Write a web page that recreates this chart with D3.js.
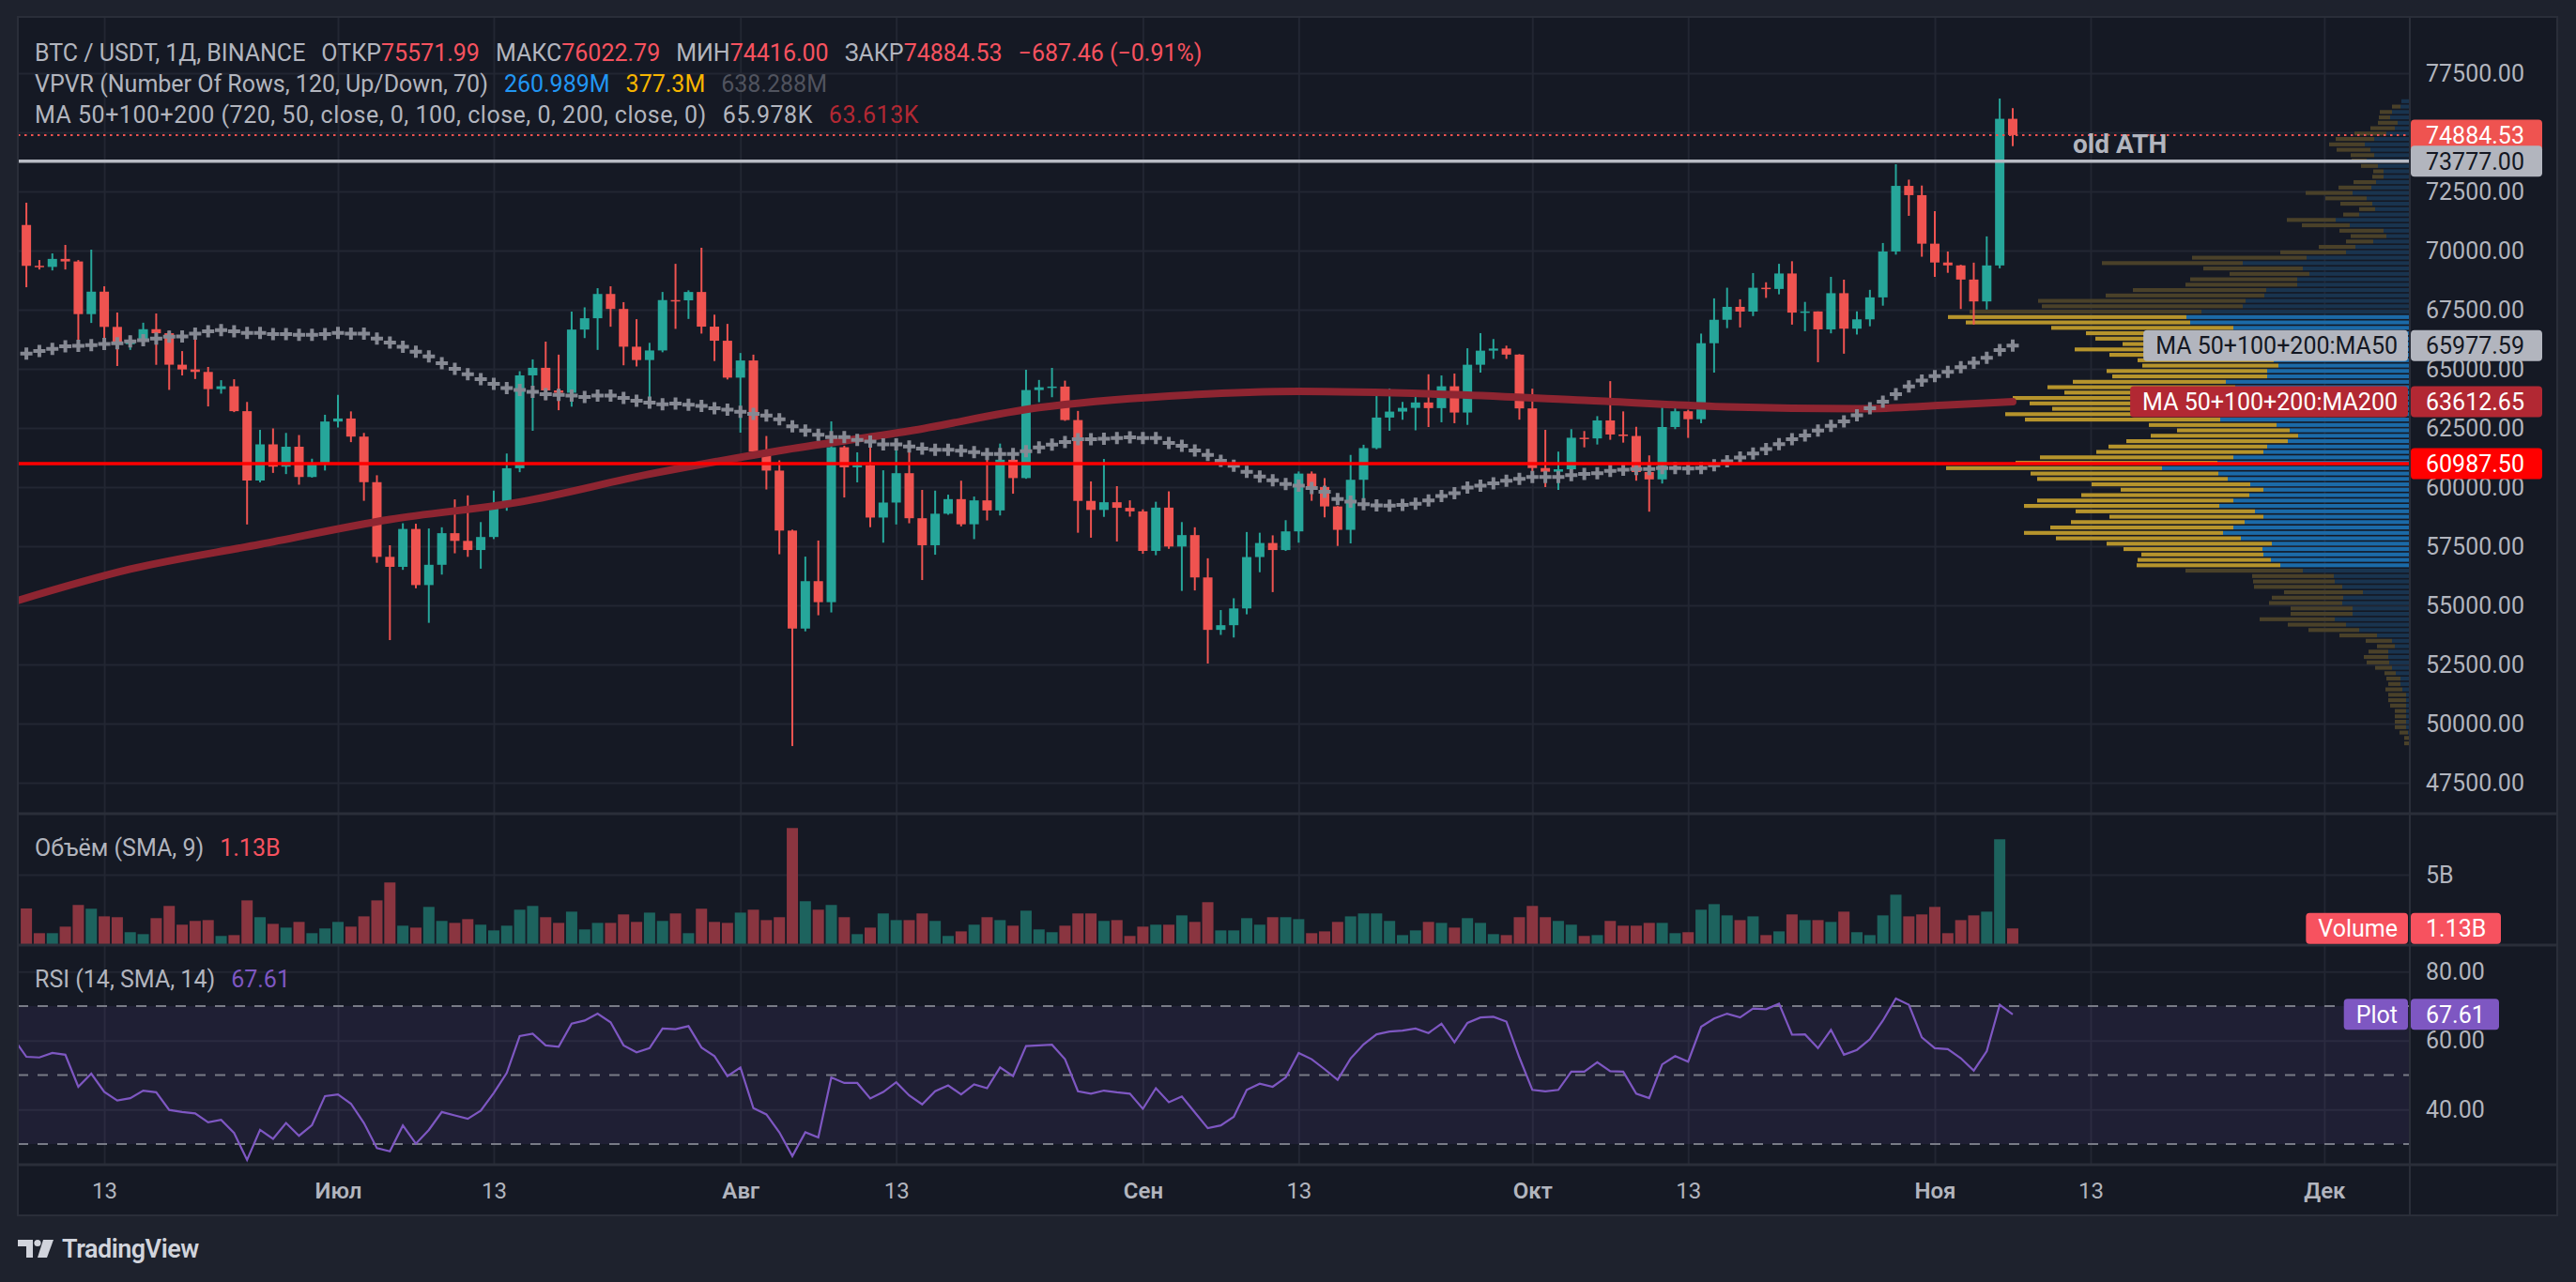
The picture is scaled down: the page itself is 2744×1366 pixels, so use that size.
<!DOCTYPE html>
<html>
<head>
<meta charset="utf-8">
<script src="https://cdn.jsdelivr.net/npm/d3@7/dist/d3.min.js"></script>
<style>
  html, body { margin: 0; padding: 0; background: #1e222d; overflow: hidden; }
  text { font-family: Roboto, "Liberation Sans", Arial, sans-serif; }
</style>
</head>
<body>
<div id="chart"></div>
<script>
// BTC / USDT daily candles, Binance, 7 Jun 2024 .. 7 Nov 2024
var firstDay = "2024-06-07"

var open = [
  71082,69355,69310,69648,69540,67314,68263,66773,66043,66228,
  66676,66505,65175,64974,64869,64143,64262,63210,60277,61806,
  60864,61706,60427,60986,62772,62900,62135,60208,57050,56628,
  58230,55857,56714,58051,57725,57339,57889,59204,60797,64724,
  65043,64087,63987,66660,67139,68165,67532,65936,65372,65777,
  67907,67896,68249,66784,66188,64628,65354,61498,60697,58161,
  54018,56022,55134,61685,60837,60923,58712,59346,60587,58683,
  57541,58874,59491,58427,59438,59013,61157,60381,64103,64220,
  64250,62834,59416,59034,59359,59123,58973,57301,59132,57487,
  57970,56180,53962,54160,54869,57042,57635,57338,58127,60571,
  60005,59182,58192,60308,61649,62940,63192,63348,63578,63339,
  64262,63152,65173,65769,65858,65602,63327,60805,60649,60752,
  62086,62058,62819,62224,62160,60636,60326,62540,63206,62870,
  66083,67074,67620,67421,68428,68378,69031,67377,67426,66668,
  68198,66698,67092,68021,69962,72736,72344,70292,69496,69374,
  68775,67850,69372,75571.99
]
var high = [
  72024,69600,69880,70240,69600,70040,68490,67380,66400,66950,
  67340,66620,65750,66490,65080,64520,64560,63600,62420,62480,
  62290,62200,61200,63058,63900,63200,62290,60500,57540,58470,
  58450,58250,58300,59480,59650,58520,59850,61420,64900,65400,
  66150,65600,67420,67600,68410,68490,67820,67100,66100,68250,
  69440,68320,70120,67290,66900,65670,65600,62160,61130,58200,
  57060,57740,62780,61750,61470,61850,60710,61560,61910,59880,
  59850,59680,60270,59600,61400,61840,61400,64960,64530,65040,
  64500,63220,60240,61190,60040,59440,59060,59380,59820,58520,
  58300,56990,54800,55300,58100,58070,57960,58600,60660,60660,
  60380,59200,61360,61790,63890,64170,63600,64000,64770,64720,
  64800,65870,66510,66260,65980,65620,64160,62420,61500,62450,
  62370,63000,64480,63200,62550,61340,63420,63480,63270,66490,
  67980,68430,67940,69050,68660,69440,69550,67830,67430,68890,
  68770,67430,68340,70320,73650,73000,72750,71670,69960,69400,
  69490,70600,76430,76022.79
]
var low = [
  68450,69200,69160,69200,66070,66940,66246,65120,65800,66000,
  65170,64110,64720,64570,63410,63950,63170,58420,60200,60600,
  60550,60100,60400,60700,62520,61900,59420,56800,53530,56500,
  55720,54260,56300,57200,57050,56550,57800,59000,60630,62380,
  63680,63250,63400,66300,65800,66780,65150,65100,63400,65700,
  66690,67110,66490,65330,64550,62300,61215,59900,57160,49050,
  53900,54580,54700,59560,60200,58300,57650,58420,58470,56070,
  57140,58830,58340,57800,58590,58800,59720,60350,63590,63800,
  62800,58070,57860,58740,57700,58750,57180,57120,57390,55610,
  55630,52540,53750,53640,54620,56400,55560,57300,57650,59420,
  58720,57510,57620,59460,61600,62380,62850,62400,62540,62740,
  62700,62630,64840,65420,65420,62850,60280,60000,59880,60460,
  61680,61800,62000,61880,60270,58960,60150,62450,62080,62700,
  64840,66720,66750,67230,68000,68150,66870,66590,65280,66500,
  65640,66450,66800,67670,69830,71470,69740,68890,69060,67530,
  66870,67510,69250,74416
]
var close = [
  69355,69310,69648,69540,67314,68263,66773,66043,66228,66676,
  66505,65175,64974,64869,64143,64262,63210,60277,61806,60864,
  61706,60427,60986,62772,62900,62135,60208,57050,56628,58230,
  55857,56714,58051,57725,57339,57889,59204,60797,64724,65043,
  64087,63987,66660,67139,68165,67532,65936,65372,65777,67907,
  67896,68249,66784,66188,64628,65354,61498,60697,58161,54018,
  56022,55134,61685,60837,60923,58712,59346,60587,58683,57541,
  58874,59491,58427,59438,59013,61157,60381,64103,64220,64250,
  62834,59416,59034,59359,59123,58973,57301,59132,57487,57970,
  56180,53962,54160,54869,57042,57635,57338,58127,60571,60005,
  59182,58192,60308,61649,62940,63192,63348,63578,63339,64262,
  63152,65173,65769,65858,65602,63327,60805,60649,60752,62086,
  62058,62819,62224,62160,60636,60326,62540,63206,62870,66083,
  67074,67620,67421,68428,68378,69031,67377,67426,66668,68198,
  66698,67092,68021,69962,72736,72344,70292,69496,69374,68775,
  67850,69372,75571.99,74884.53
]
// volume, billions USDT
var volume = [
  2.57,0.79,0.79,1.26,2.82,2.55,2.00,1.94,0.86,0.72,
  1.87,2.75,1.40,1.67,1.73,0.59,0.65,3.15,1.94,1.46,
  1.19,1.60,0.79,1.13,1.60,1.26,2.00,3.15,4.44,1.33,
  1.19,2.68,1.67,1.53,1.80,1.40,0.99,1.33,2.48,2.75,
  1.94,1.53,2.34,1.06,1.53,1.53,2.14,1.60,2.27,1.67,
  2.21,0.79,2.55,1.60,1.53,2.27,2.48,1.73,1.94,8.36,
  3.09,2.48,2.82,1.94,0.72,1.19,2.21,1.73,1.73,2.21,
  1.67,0.59,0.92,1.40,1.94,1.73,1.33,2.41,1.06,0.86,
  1.33,2.21,2.21,1.67,1.73,0.59,1.26,1.40,1.40,2.07,
  1.60,3.02,0.99,0.99,1.87,1.40,1.94,1.94,1.80,0.79,
  0.92,1.60,2.00,2.21,2.21,1.67,0.65,0.99,1.60,1.53,
  1.19,1.87,1.53,0.72,0.65,1.94,2.75,1.94,1.67,1.40,
  0.59,0.65,1.67,1.33,1.33,1.53,1.53,0.79,0.86,2.48,
  2.88,2.07,1.73,2.00,0.65,0.92,2.14,1.73,1.73,1.60,
  2.34,0.86,0.65,2.07,3.56,2.00,2.14,2.68,0.79,1.73,
  2.07,2.34,7.55,1.13
]
// RSI(14), first value belongs to 6 Jun
var rsi = [60.6,
  55.3,55.1,56.4,55.9,46.6,50.4,45.1,42.6,43.3,45.5,
  45.0,39.9,39.3,38.9,36.3,37.0,33.2,25.4,34.1,31.5,
  36.1,32.4,35.5,43.9,44.4,41.7,36.1,28.8,27.9,35.4,
  30.1,34.1,39.3,38.3,37.3,39.7,44.8,50.6,61.3,62.0,
  58.6,58.2,64.9,65.8,67.8,65.3,58.6,56.6,57.8,63.5,
  63.3,64.2,58.0,55.5,49.7,52.2,40.4,38.6,33.4,26.5,
  33.4,31.9,49.3,47.7,47.7,43.2,45.1,47.9,44.1,41.5,
  45.3,47.0,44.4,47.3,46.2,52.2,49.7,58.4,58.6,58.8,
  54.6,45.3,44.6,45.5,45.0,44.6,40.2,46.2,42.1,43.8,
  39.2,34.6,35.4,37.9,45.7,47.5,46.6,49.3,56.4,54.6,
  51.7,48.6,54.8,58.9,61.8,62.6,62.9,63.5,62.2,64.9,
  59.5,65.1,66.7,66.9,65.5,55.1,45.7,45.3,45.7,51.0,
  51.0,53.7,51.1,51.0,44.6,43.3,53.1,55.5,53.9,64.0,
  66.4,67.8,66.7,69.3,69.1,70.7,61.7,61.8,57.8,63.1,
  55.9,57.3,60.4,65.8,72.2,70.4,60.9,57.8,57.5,54.9,
  51.3,56.9,70.4,67.61
]
var ma50 = [
  65647,65758,65840,65952,65970,66000,66050,66080,66160,66210,
  66280,66355,66370,66490,66590,66640,66590,66520,66520,66470,
  66470,66440,66440,66470,66520,66490,66490,66280,66110,65935,
  65725,65530,65240,65000,64770,64560,64365,64185,64105,64025,
  63930,63895,63870,63810,63870,63870,63770,63650,63570,63500,
  63527,63480,63430,63330,63270,63180,63100,63030,62870,62570,
  62390,62210,62115,62110,61990,61920,61810,61810,61720,61630,
  61580,61580,61540,61480,61400,61400,61400,61520,61680,61800,
  61900,62020,62020,62040,62070,62100,62070,62070,61870,61750,
  61550,61360,61110,60900,60640,60450,60290,60130,60060,59960,
  59800,59490,59380,59280,59230,59215,59250,59300,59430,59620,
  59740,59980,60060,60160,60270,60350,60430,60430,60430,60510,
  60560,60590,60680,60730,60760,60760,60800,60800,60780,60800,
  60920,61090,61250,61420,61610,61820,62020,62180,62390,62590,
  62780,63040,63330,63610,63930,64260,64500,64690,64870,65070,
  65260,65470,65790,65977.59
]
// MA200 read at these candle numbers
var ma200Day = [-1, 8, 18, 28, 38, 48, 58, 68, 78, 88, 98, 110, 120, 131, 141, 148, 153]
var ma200 = [55150, 56530, 57580, 58630, 59370, 60550, 61540, 62370, 63360, 63850, 64050, 63910, 63670, 63390, 63310, 63470, 63612.65]

// visible range volume profile, 120 rows, highest row first
var vpHigh = 76430, vpLow = 49050
var vaHigh = 67300, vaLow = 56580
var vpDown = [
  0,9,13,12,21,26,34,41,38,36, 25,16,18,11,12,24,35,50,44,34,
  17,17,52,51,47,38,29,39,70,122, 150,106,85,114,119,142,169,221,214,247,
  254,239,194,170,165,150,175,160,145,145, 171,165,163,200,185,215,205,190,215,208,
  136,120,157,172,169,178,206,215,230,200, 203,169,152,179,209,208,191,164,185,195,
  212,197,176,148,130,142,153,125,87,87, 94,84,76,78,66,66,80,62,54,40,
  28,19,21,26,24,18,12,15,13,18, 19,19,17,12,12,12,12,9,5,6
]
var vpUp = [
  9,10,19,21,13,16,25,38,48,42, 38,46,34,28,28,36,41,61,46,40,
  37,54,79,64,28,25,39,58,68,110, 178,114,107,120,120,153,155,175,178,222,
  238,234,188,175,170,156,182,160,145,140, 152,152,196,186,183,208,200,191,216,202,
  142,128,119,130,152,156,188,205,264,204, 194,170,156,171,188,203,165,156,176,188,
  199,180,147,157,156,148,138,114,81,80, 72,50,71,72,61,61,80,68,54,35,
  19,16,23,23,22,19,15,10,10,8, 4,4,4,4,4,4,4,2,1,0
]

var oldAth = 73777
var supportLevel = 60987.5
var lastPrice = 74884.53

var priceTicks = [47500, 50000, 52500, 55000, 57500, 60000, 62500, 65000, 67500, 70000, 72500, 75000, 77500]
var timeTicks = ["2024-06-13", "2024-07-01", "2024-07-13", "2024-08-01", "2024-08-13", "2024-09-01",
                 "2024-09-13", "2024-10-01", "2024-10-13", "2024-11-01", "2024-11-13", "2024-12-01"]
var timeLabels = ["13", "Июл", "13", "Авг", "13", "Сен", "13", "Окт", "13", "Ноя", "13", "Дек"]
var volTicks = [5]
var rsiTicks = [40, 60, 80]
var rsiLevels = [30, 50, 70]

// ---- layout
var W = 2744, H = 1366
var L = 19, R = 2724, plotR = 2567
var mainTop = 18, mainBot = 866
var volTop = 868, volBot = 1006
var rsiTop = 1008, rsiBot = 1240
var timeBot = 1295

var bg = "#151924", gridC = "#222632", sepC = "#2a2e39", txt = "#b2b5be"
var upC = "#26a69a", dnC = "#ef5350"

var parse = d3.utcParse("%Y-%m-%d")
var t0 = parse(firstDay)
var dayAt = function(i) { return d3.utcDay.offset(t0, i) }

var x = d3.scaleUtc()
    .domain([parse("2024-07-01"), parse("2024-11-01")])
    .range([360, 2061])
var y = d3.scaleLinear().domain([47500, 77500]).range([834, 78])
var yVol = d3.scaleLinear().domain([0, 5]).range([volBot, 932])
var yRsi = d3.scaleLinear().domain([30, 70]).range([1219, 1072])

var bars = close.map(function(c, i) {
  return {t: dayAt(i), o: open[i], h: high[i], l: low[i], c: c, v: volume[i], up: c >= open[i]}
})

var svg = d3.select("#chart")
  .append("svg")
    .attr("width", W)
    .attr("height", H)

svg.append("rect").attr("width", W).attr("height", H).attr("fill", "#1e222d")
svg.append("rect")
    .attr("x", L).attr("y", mainTop)
    .attr("width", R - L).attr("height", timeBot - mainTop)
    .attr("fill", bg)

var defs = svg.append("defs")
defs.append("clipPath").attr("id", "clipMain")
  .append("rect").attr("x", L).attr("y", mainTop).attr("width", plotR - L).attr("height", mainBot - mainTop)
defs.append("clipPath").attr("id", "clipRsi")
  .append("rect").attr("x", L).attr("y", rsiTop).attr("width", plotR - L).attr("height", rsiBot - rsiTop)

// ---- grid
var tickDates = timeTicks.map(parse)

svg.append("g")
    .attr("transform", "translate(0," + rsiBot + ")")
    .call(d3.axisBottom(x).tickValues(tickDates).tickSize(-(rsiBot - mainTop)).tickFormat(""))
    .call(function(g) { g.select(".domain").remove() })
    .selectAll("line").attr("stroke", gridC).attr("stroke-width", 2)

svg.append("g")
    .attr("transform", "translate(" + plotR + ",0)")
    .call(d3.axisLeft(y).tickValues(priceTicks).tickSize(plotR - L).tickFormat(""))
    .call(function(g) { g.select(".domain").remove() })
    .selectAll("line").attr("stroke", gridC).attr("stroke-width", 2)

svg.append("g")
    .attr("transform", "translate(" + plotR + ",0)")
    .call(d3.axisLeft(yVol).tickValues(volTicks).tickSize(plotR - L).tickFormat(""))
    .call(function(g) { g.select(".domain").remove() })
    .selectAll("line").attr("stroke", gridC).attr("stroke-width", 2)

svg.append("g")
    .attr("transform", "translate(" + plotR + ",0)")
    .call(d3.axisLeft(yRsi).tickValues(rsiTicks).tickSize(plotR - L).tickFormat(""))
    .call(function(g) { g.select(".domain").remove() })
    .selectAll("line").attr("stroke", gridC).attr("stroke-width", 2)

// ---- volume profile (VPVR)
var main = svg.append("g").attr("clip-path", "url(#clipMain)")
var rowH = (vpHigh - vpLow) / vpDown.length
var vpTotal = vpDown.map(function(d, k) { return d + vpUp[k] })
var vpX = d3.scaleLinear().domain([0, d3.max(vpTotal)]).range([0, 494])

var rows = main.append("g").attr("class", "vpvr")
  .selectAll("g")
  .data(vpDown)
  .join("g")
    .attr("transform", function(d, k) {
      return "translate(0," + (y(vpHigh - k * rowH) + 0.8) + ")"
    })

rows.each(function(d, k) {
  var mid = vpHigh - (k + 0.5) * rowH
  var inVa = mid <= vaHigh && mid >= vaLow
  var h = (y(vpHigh - rowH) - y(vpHigh)) * 0.72
  var wUp = vpX(vpUp[k]), wDn = vpX(d)
  var g = d3.select(this)
  g.append("rect")
      .attr("x", plotR - wUp).attr("width", wUp).attr("height", h)
      .attr("fill", inVa ? "#1b6aa8" : "#19344f")
  g.append("rect")
      .attr("x", plotR - wUp - wDn).attr("width", wDn).attr("height", h)
      .attr("fill", inVa ? "#b6942c" : "#4a4129")
})

// ---- candles
var candle = main.append("g").attr("class", "candles")
  .selectAll("g")
  .data(bars)
  .join("g")
    .attr("fill", function(d) { return d.up ? upC : dnC })
    .attr("stroke", function(d) { return d.up ? upC : dnC })

candle.append("line")
    .attr("x1", function(d) { return x(d.t) })
    .attr("x2", function(d) { return x(d.t) })
    .attr("y1", function(d) { return y(d.h) })
    .attr("y2", function(d) { return y(d.l) })
    .attr("stroke-width", 2)

candle.append("rect")
    .attr("stroke", "none")
    .attr("x", function(d) { return x(d.t) - 5 })
    .attr("width", 10)
    .attr("y", function(d) { return y(Math.max(d.o, d.c)) })
    .attr("height", function(d) { return Math.max(1.5, Math.abs(y(d.o) - y(d.c))) })

// ---- moving averages
main.append("path")
    .datum(ma200)
    .attr("fill", "none")
    .attr("stroke", "#8e2531")
    .attr("stroke-width", 8)
    .attr("stroke-linecap", "round")
    .attr("d", d3.line()
      .x(function(d, i) { return x(dayAt(ma200Day[i])) })
      .y(function(d) { return y(d) })
      .curve(d3.curveMonotoneX))

main.append("g").attr("class", "ma50")
  .selectAll("path")
  .data(ma50)
  .join("path")
    .attr("transform", function(d, i) { return "translate(" + x(dayAt(i)) + "," + y(d) + ")" })
    .attr("d", "M-6.5,0H6.5M0,-6.5V6.5")
    .attr("stroke", "#868993")
    .attr("stroke-width", 4)

// ---- horizontal levels
main.append("line")
    .attr("x1", L).attr("x2", plotR)
    .attr("y1", y(lastPrice)).attr("y2", y(lastPrice))
    .attr("stroke", dnC).attr("stroke-width", 2).attr("stroke-dasharray", "2.5,4.5")

main.append("line")
    .attr("x1", L).attr("x2", plotR)
    .attr("y1", y(oldAth)).attr("y2", y(oldAth))
    .attr("stroke", "#b8bbc4").attr("stroke-width", 3.5)

main.append("line")
    .attr("x1", L).attr("x2", plotR)
    .attr("y1", y(supportLevel)).attr("y2", y(supportLevel))
    .attr("stroke", "#ff0000").attr("stroke-width", 3.5)

main.append("text")
    .attr("x", 2208).attr("y", y(oldAth) - 9)
    .attr("fill", txt)
    .attr("font-size", 28)
    .attr("font-weight", 700)
    .text("old ATH")

// ---- volume pane
svg.append("g").attr("class", "volume")
  .selectAll("rect")
  .data(bars)
  .join("rect")
    .attr("x", function(d) { return x(d.t) - 6 })
    .attr("width", 12)
    .attr("y", function(d) { return yVol(d.v) })
    .attr("height", function(d) { return yVol(0) - yVol(d.v) })
    .attr("fill", function(d) { return d.up ? "#1d635e" : "#8a3540" })

// ---- RSI pane
var rsiG = svg.append("g").attr("clip-path", "url(#clipRsi)")
rsiG.append("rect")
    .attr("x", L).attr("width", plotR - L)
    .attr("y", yRsi(70)).attr("height", yRsi(30) - yRsi(70))
    .attr("fill", "rgba(126,87,194,0.1)")

rsiG.selectAll("line.level")
  .data(rsiLevels)
  .join("line")
    .attr("class", "level")
    .attr("x1", L).attr("x2", plotR)
    .attr("y1", function(d) { return yRsi(d) })
    .attr("y2", function(d) { return yRsi(d) })
    .attr("stroke", "#787b86").attr("stroke-width", 2).attr("stroke-dasharray", "11,10")

rsiG.append("path")
    .datum(rsi)
    .attr("fill", "none")
    .attr("stroke", "#7e57c2")
    .attr("stroke-width", 2.2)
    .attr("d", d3.line()
      .x(function(d, i) { return x(dayAt(i - 1)) })
      .y(function(d) { return yRsi(d) }))

// ---- separators
svg.selectAll("line.sep")
  .data([mainBot + 1, volBot + 1, rsiBot + 1])
  .join("line")
    .attr("class", "sep")
    .attr("x1", L).attr("x2", R)
    .attr("y1", function(d) { return d }).attr("y2", function(d) { return d })
    .attr("stroke", sepC).attr("stroke-width", 3)

svg.append("line")
    .attr("x1", plotR).attr("x2", plotR).attr("y1", mainTop).attr("y2", timeBot)
    .attr("stroke", sepC).attr("stroke-width", 2)

svg.append("rect")
    .attr("x", L).attr("y", mainTop).attr("width", R - L).attr("height", timeBot - mainTop)
    .attr("fill", "none").attr("stroke", sepC).attr("stroke-width", 2)

// ---- axes
function styleAxis(g) {
  g.select(".domain").remove()
  g.selectAll("text").attr("fill", txt).attr("font-size", 25)
}

svg.append("g")
    .attr("transform", "translate(" + plotR + ",0)")
    .call(d3.axisRight(y).tickValues(priceTicks).tickSize(0).tickPadding(17).tickFormat(d3.format(".2f")))
    .call(styleAxis)

svg.append("g")
    .attr("transform", "translate(" + plotR + ",0)")
    .call(d3.axisRight(yVol).tickValues(volTicks).tickSize(0).tickPadding(17).tickFormat(function(d) { return d + "B" }))
    .call(styleAxis)

svg.append("g")
    .attr("transform", "translate(" + plotR + ",0)")
    .call(d3.axisRight(yRsi).tickValues(rsiTicks).tickSize(0).tickPadding(17).tickFormat(d3.format(".2f")))
    .call(styleAxis)

svg.append("g")
    .attr("transform", "translate(0," + rsiBot + ")")
    .call(d3.axisBottom(x).tickValues(tickDates).tickSize(0).tickPadding(20)
      .tickFormat(function(d, i) { return timeLabels[i] }))
    .call(function(g) {
      g.select(".domain").remove()
      g.selectAll("text")
          .attr("fill", txt)
          .attr("font-size", 24)
          .attr("font-weight", function(d, i) { return timeLabels[i] === "13" ? 400 : 600 })
    })

// ---- price badges
function badge(yc, value, bgC, fgC, w, label) {
  var g = svg.append("g")
  g.append("rect")
      .attr("x", plotR + 1).attr("y", yc - 16.5)
      .attr("width", w).attr("height", 33).attr("rx", 4)
      .attr("fill", bgC)
  g.append("text")
      .attr("x", plotR + 17).attr("y", yc)
      .attr("dy", "0.36em")
      .attr("fill", fgC).attr("font-size", 25)
      .text(value)
  if (label) {
    var lt = g.append("text")
        .attr("x", plotR - 13).attr("y", yc)
        .attr("dy", "0.36em")
        .attr("text-anchor", "end")
        .attr("fill", fgC).attr("font-size", 25)
        .text(label)
    var len = lt.node().getComputedTextLength()
    g.insert("rect", "text")
        .attr("x", plotR - 2 - len - 24).attr("y", yc - 16.5)
        .attr("width", len + 24).attr("height", 33).attr("rx", 4)
        .attr("fill", bgC)
  }
}

badge(y(lastPrice), d3.format(".2f")(lastPrice), "#ef5350", "#ffffff", 140)
badge(y(oldAth), d3.format(".2f")(oldAth), "#b2b5be", "#131722", 140)
badge(y(ma50[ma50.length - 1]), d3.format(".2f")(ma50[ma50.length - 1]), "#b2b5be", "#131722", 140, "MA 50+100+200:MA50")
badge(y(ma200[ma200.length - 1]), d3.format(".2f")(ma200[ma200.length - 1]), "#b22833", "#ffffff", 140, "MA 50+100+200:MA200")
badge(y(supportLevel), d3.format(".2f")(supportLevel), "#ff0000", "#ffffff", 140)
badge(yVol(volume[volume.length - 1]), volume[volume.length - 1] + "B", "#f7525f", "#ffffff", 96, "Volume")
badge(yRsi(rsi[rsi.length - 1]), d3.format(".2f")(rsi[rsi.length - 1]), "#7e57c2", "#ffffff", 94, "Plot")

// ---- legends
function legend(yc, parts, spacing) {
  var t = svg.append("text")
      .attr("x", 37).attr("y", yc)
      .attr("dy", "0.36em")
      .attr("font-size", 25)
      .attr("letter-spacing", spacing || 0)
  parts.forEach(function(p) {
    t.append("tspan").attr("dx", p[2] || 0).attr("fill", p[1]).text(p[0])
  })
}

var red = "#f7525f"
legend(56, [["BTC / USDT, 1Д, BINANCE", txt], ["ОТКР", txt, 17], ["75571.99", red], ["МАКС", txt, 17],
  ["76022.79", red], ["МИН", txt, 17], ["74416.00", red], ["ЗАКР", txt, 17], ["74884.53", red],
  ["−687.46 (−0.91%)", red, 17]])
legend(89, [["VPVR (Number Of Rows, 120, Up/Down, 70)", txt], ["260.989M", "#2196f3", 17],
  ["377.3M", "#f7b500", 17], ["638.288M", "#50535e", 17]])
legend(122, [["MA 50+100+200 (720, 50, close, 0, 100, close, 0, 200, close, 0)", txt],
  ["65.978K", txt, 17], ["63.613K", "#b22833", 17]], 0.5)
legend(903, [["Объём (SMA, 9)", txt], ["1.13B", red, 17]])
legend(1043, [["RSI (14, SMA, 14)", txt], ["67.61", "#7e57c2", 17]])

// ---- logo
var logo = svg.append("g").attr("fill", "#d1d4dc")
logo.append("path").attr("d", "M19,1321H35V1340H28V1328H19Z")
logo.append("circle").attr("cx", 40).attr("cy", 1324.5).attr("r", 3.6)
logo.append("path").attr("d", "M46,1321H57L50,1340H40Z")
logo.append("text")
    .attr("x", 66).attr("y", 1330).attr("dy", "0.36em")
    .attr("font-size", 27).attr("font-weight", 600)
    .attr("letter-spacing", -0.5)
    .text("TradingView")
</script>
</body>
</html>
